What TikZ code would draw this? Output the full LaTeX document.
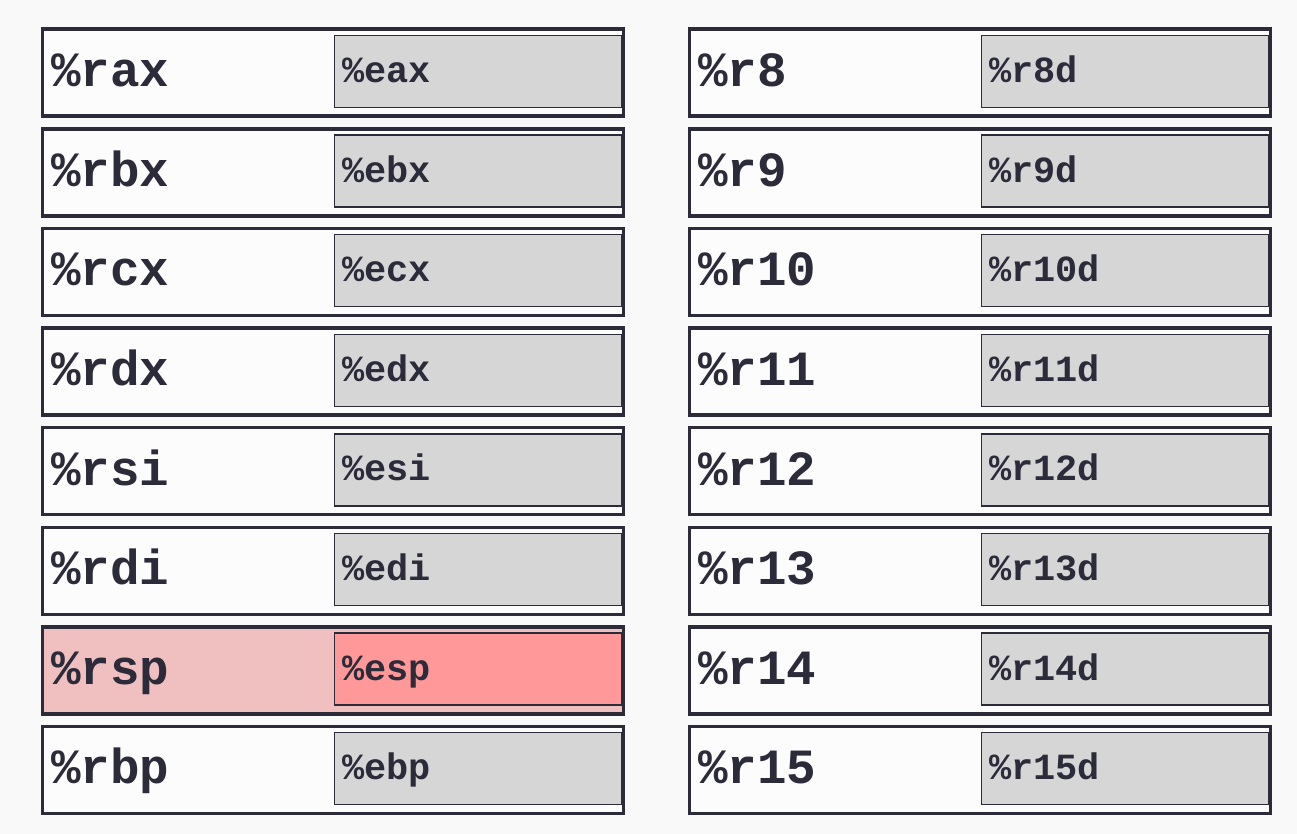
\documentclass[tikz,border=0pt]{standalone}
\usepackage{fontspec}
\setmonofont{Liberation Mono}
\usetikzlibrary{positioning}
\definecolor{figFondo}{RGB}{249,249,249}
\definecolor{figBorde}{RGB}{43,43,58}
\definecolor{figBlanco}{RGB}{252,252,252}
\definecolor{figGris}{RGB}{214,214,214}
\definecolor{figRosa}{RGB}{240,192,192}
\definecolor{figRojo}{RGB}{255,153,153}
\tikzset{
  registro/.style={
    rectangle, draw=figBorde, line width=2pt, fill=figBlanco, outer sep=0pt,
    minimum width=11.62cm, minimum height=1.74cm, text width=11.28cm,
    inner xsep=0.17cm, align=left, text height=0.56cm, text depth=0pt,
    font=\ttfamily\bfseries\fontsize{28}{28}\selectfont, text=figBorde
  },
  registrop/.style={registro, fill=figRosa},
  subregistro/.style={
    rectangle, draw=figBorde, line width=0.8pt, fill=figGris, outer sep=0pt,
    minimum width=5.75cm, minimum height=1.44cm, text width=5.45cm,
    inner xsep=0.15cm, align=left, text height=0.44cm, text depth=0pt,
    anchor=east, xshift=-0.03cm, yshift=0.025cm,
    font=\ttfamily\bfseries\fontsize{21}{21}\selectfont, text=figBorde
  },
  subregistrop/.style={subregistro, fill=figRojo, line width=1.1pt}
}

\begin{document}
\begin{tikzpicture}[node distance=0.252cm]
  \fill[figFondo] (0,0) rectangle (25.94,-16.68);

  % Registros clásicos
  \node[registro] (rax) at (6.66,-1.455) {\%rax};
  \node[registro, below=of rax] (rbx) {\%rbx};
  \node[registro, below=of rbx] (rcx) {\%rcx};
  \node[registro, below=of rcx] (rdx) {\%rdx};
  \node[registro, below=of rdx] (rsi) {\%rsi};
  \node[registro, below=of rsi] (rdi) {\%rdi};
  \node[registrop, below=of rdi] (rsp) {\%rsp};
  \node[registro, below=of rsp] (rbp) {\%rbp};

  \node[subregistro] (eax) at (rax.east) {\%eax};
  \node[subregistro] (ebx) at (rbx.east) {\%ebx};
  \node[subregistro] (ecx) at (rcx.east) {\%ecx};
  \node[subregistro] (edx) at (rdx.east) {\%edx};
  \node[subregistro] (esi) at (rsi.east) {\%esi};
  \node[subregistro] (edi) at (rdi.east) {\%edi};
  \node[subregistrop] (esp) at (rsp.east) {\%esp};
  \node[subregistro] (ebp) at (rbp.east) {\%ebp};

  % Registros nuevos
  \node[registro] (r8) at (19.6,-1.455) {\%r8};
  \node[registro, below=of r8] (r9) {\%r9};
  \node[registro, below=of r9] (r10) {\%r10};
  \node[registro, below=of r10] (r11) {\%r11};
  \node[registro, below=of r11] (r12) {\%r12};
  \node[registro, below=of r12] (r13) {\%r13};
  \node[registro, below=of r13] (r14) {\%r14};
  \node[registro, below=of r14] (r15) {\%r15};

  \node[subregistro] (r8d) at (r8.east) {\%r8d};
  \node[subregistro] (r9d) at (r9.east) {\%r9d};
  \node[subregistro] (r10d) at (r10.east) {\%r10d};
  \node[subregistro] (r11d) at (r11.east) {\%r11d};
  \node[subregistro] (r12d) at (r12.east) {\%r12d};
  \node[subregistro] (r13d) at (r13.east) {\%r13d};
  \node[subregistro] (r14d) at (r14.east) {\%r14d};
  \node[subregistro] (r15d) at (r15.east) {\%r15d};
\end{tikzpicture}
\end{document}
